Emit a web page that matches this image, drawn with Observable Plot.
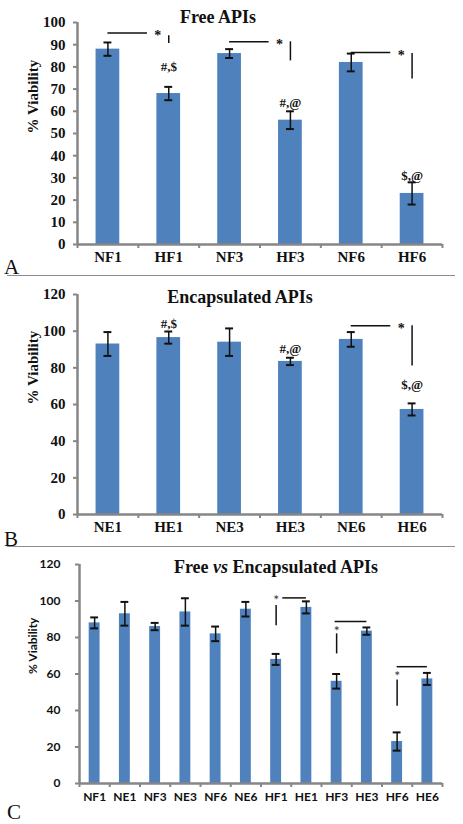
<!DOCTYPE html>
<html>
<head>
<meta charset="utf-8">
<script src="https://cdn.jsdelivr.net/npm/d3@7"></script>
<script src="https://cdn.jsdelivr.net/npm/@observablehq/plot@0.6"></script>
<style>
  html, body { margin: 0; padding: 0; background: #fff; }
  #wrap { position: relative; width: 463px; height: 824px; background: #fff; overflow: hidden; }
  .pnl { position: absolute; left: 0; }
  .title { position: absolute; transform: translate(-50%, -50%); font-family: "Liberation Serif", serif; font-weight: bold; font-size: 18px; line-height: 1; white-space: nowrap; color: #111; }
  .letter { position: absolute; font-family: "Liberation Serif", serif; font-size: 21px; line-height: 1; color: #111; }
  .sep { position: absolute; left: 7px; width: 448px; height: 0; border-top: 1.5px solid #8c8c8c; }
</style>
</head>
<body>
<div id="wrap">
  <div id="pA" class="pnl" style="top:0px"></div>
  <div id="pB" class="pnl" style="top:275px"></div>
  <div id="pC" class="pnl" style="top:546px"></div>
  <div class="title" style="left:218px;top:17px">Free APIs</div>
  <div class="title" style="left:240px;top:297px">Encapsulated APIs</div>
  <div class="title" style="left:276px;top:567px">Free <i>vs</i> Encapsulated APIs</div>
  <div class="letter" style="left:4px;top:257px">A</div>
  <div class="sep" style="top:275px"></div>
  <div class="letter" style="left:4px;top:529px">B</div>
  <div class="sep" style="top:546px"></div>
  <div class="letter" style="left:7px;top:802px">C</div>
</div>
<script>
// ---------- Data ----------
const catsA = ["NF1", "HF1", "NF3", "HF3", "NF6", "HF6"];
const meanA = [88, 68, 86, 56, 82, 23];
const errA  = [3, 3, 2, 4, 4, 5];
const noteA = ["", "#,$", "", "#,@", "", "$,@"];
const noteYA = [null, 80, null, 64, null, 31];
const ticksA = [0, 10, 20, 30, 40, 50, 60, 70, 80, 90, 100];
const sigA = [
  {from: 0, to: 1, y: 95.3, vTop: 94, vLow: 90.5},
  {from: 2, to: 3, y: 91.3, vTop: 91.3, vLow: 82.7},
  {from: 4, to: 5, y: 86.5, vTop: 86, vLow: 74.6}
];

const catsB = ["NE1", "HE1", "NE3", "HE3", "NE6", "HE6"];
const meanB = [93, 96.5, 94, 83.5, 95.5, 57.3];
const errB  = [6.5, 3.3, 7.5, 2, 4, 3.3];
const noteB = ["", "#,$", "", "#,@", "", "$,@"];
const noteYB = [null, 104, null, 90.4, null, 71];
const ticksB = [0, 20, 40, 60, 80, 100, 120];
const sigB = [
  {from: 4, to: 5, y: 103, vTop: 103, vLow: 81}
];

const catsC = ["NF1", "NE1", "NF3", "NE3", "NF6", "NE6", "HF1", "HE1", "HF3", "HE3", "HF6", "HE6"];
const meanC = [88, 93, 86, 94, 82, 95.5, 68, 96.5, 56, 83.5, 23, 57.3];
const errC  = [3, 6.5, 2, 7.5, 4, 4, 3, 3.3, 4, 2, 5, 3.3];
const ticksC = [0, 20, 40, 60, 80, 100, 120];
const sigC = [
  {a: 6, b: 7, start: 0.22, y: 101.7, starY: 101.7, vTop: 97.5, vLow: 86.5},
  {a: 8, b: 9, start: -0.05, y: 88.7, starY: 84.7, vTop: 82, vLow: 71},
  {a: 10, b: 11, start: 0, y: 64, starY: 60.5, vTop: 56.7, vLow: 42.3}
];

// ---------- Styles ----------
const BAR = "#4f81bd";
const AX = "#868686";
const INK = "#111";
const SERIF = "Liberation Serif";
const SANS = "Lato";

function render(o) {
  const n = o.cats.length;
  const data = o.cats.map((c, i) => ({i, c, v: o.vals[i], e: o.errs[i]}));
  const yMax = o.ticks[o.ticks.length - 1];
  const bounds = d3.range(n + 1).map(k => k - 0.5);
  const marks = [
    Plot.rectY(data, {x1: d => d.i - o.bw, x2: d => d.i + o.bw, y1: 0, y2: "v", fill: BAR}),
    Plot.ruleX(data, {x: "i", y1: d => d.v - d.e, y2: d => d.v + d.e, stroke: INK, strokeWidth: 1.5}),
    Plot.ruleY(data, {y: d => d.v + d.e, x1: d => d.i - o.cap, x2: d => d.i + o.cap, stroke: INK, strokeWidth: 2}),
    Plot.ruleY(data, {y: d => d.v - d.e, x1: d => d.i - o.cap, x2: d => d.i + o.cap, stroke: INK, strokeWidth: 2}),
    Plot.ruleX([bounds[0]], {y1: 0, y2: yMax, stroke: AX, strokeWidth: 2.5}),
    Plot.ruleY([0], {x1: bounds[0], x2: bounds[n], stroke: AX, strokeWidth: 2.5}),
    Plot.axisY({ticks: o.ticks, tickSize: 4, tickFormat: () => "", stroke: AX, strokeWidth: 2, label: null}),
    Plot.axisX({ticks: bounds, tickSize: 4, tickFormat: () => "", stroke: AX, strokeWidth: 2, label: null}),
    Plot.text(o.ticks, {x: bounds[0], y: d => d, text: d => String(d), textAnchor: "end", dx: o.yDx,
      fill: INK, fontFamily: o.font, fontWeight: "bold", fontSize: o.tickFs}),
    Plot.text(data, {x: "i", y: 0, text: "c", lineAnchor: "top", dy: o.xDy,
      fill: INK, fontFamily: o.font, fontWeight: "bold", fontSize: o.catFs}),
    Plot.text(["% Viability"], {frameAnchor: "left", rotate: -90, dx: o.labDx, fill: INK,
      fontFamily: o.font, fontWeight: "bold", fontSize: o.labFs})
  ];
  return Plot.plot({
    width: 463, height: o.height,
    marginLeft: o.ml, marginRight: o.mr, marginTop: o.mt, marginBottom: o.mb,
    x: {domain: [-0.5, n - 0.5], axis: null},
    y: {domain: [0, yMax], axis: null},
    style: {background: "transparent", color: INK, overflow: "visible"},
    marks: marks.concat(o.extra || [])
  });
}

function noteMarks(cats, notes, noteY) {
  const d = cats.map((c, i) => ({i, t: notes[i], y: noteY[i]})).filter(d => d.t);
  return [Plot.text(d, {x: "i", y: "y", text: "t", fill: INK, fontFamily: SERIF, fontWeight: "bold", fontSize: 13})];
}

function sigMarksAB(sig) {
  return [
    Plot.ruleY(sig, {y: "y", x1: "from", x2: d => d.from + 0.65 * (d.to - d.from), stroke: INK, strokeWidth: 1.5}),
    Plot.text(sig, {x: d => d.from + 0.82 * (d.to - d.from), y: "y", text: () => "*", fill: INK,
      fontFamily: SERIF, fontWeight: "bold", fontSize: 14, dy: 3}),
    Plot.ruleX(sig, {x: "to", y1: "vLow", y2: "vTop", stroke: INK, strokeWidth: 1.5})
  ];
}

function sigMarksC(sig) {
  return [
    Plot.ruleY(sig, {y: "y", x1: d => d.a + d.start, x2: "b", stroke: INK, strokeWidth: 1.5}),
    Plot.text(sig, {x: "a", y: "starY", text: () => "*", fill: "#333",
      fontFamily: SANS, fontSize: 14, dy: 3}),
    Plot.ruleX(sig, {x: "a", y1: "vLow", y2: "vTop", stroke: INK, strokeWidth: 1.5})
  ];
}

document.getElementById("pA").appendChild(render({
  cats: catsA, vals: meanA, errs: errA, ticks: ticksA,
  height: 275, ml: 77, mr: 21, mt: 22, mb: 31,
  bw: 0.195, cap: 0.065, font: SERIF, tickFs: 15, catFs: 15, labFs: 15, labDx: -44, yDx: -12, xDy: 7,
  extra: [...noteMarks(catsA, noteA, noteYA), ...sigMarksAB(sigA)]
}));

document.getElementById("pB").appendChild(render({
  cats: catsB, vals: meanB, errs: errB, ticks: ticksB,
  height: 271, ml: 77, mr: 21, mt: 19, mb: 32,
  bw: 0.195, cap: 0.065, font: SERIF, tickFs: 15, catFs: 15, labFs: 15, labDx: -44, yDx: -12, xDy: 7,
  extra: [...noteMarks(catsB, noteB, noteYB), ...sigMarksAB(sigB)]
}));

document.getElementById("pC").appendChild(render({
  cats: catsC, vals: meanC, errs: errC, ticks: ticksC,
  height: 278, ml: 79, mr: 21, mt: 18, mb: 41,
  bw: 0.18, cap: 0.13, font: SANS, tickFs: 12, catFs: 12, labFs: 12, labDx: -46, yDx: -19, xDy: 9,
  extra: [...sigMarksC(sigC)]
}));
</script>
</body>
</html>
